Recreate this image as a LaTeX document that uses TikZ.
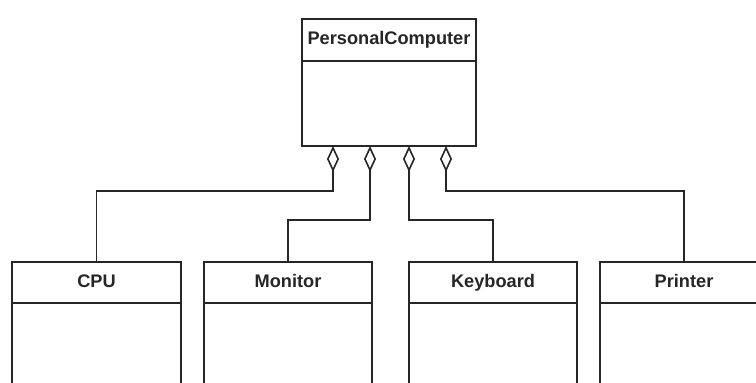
\documentclass[tikz,border=0pt]{standalone}
\usepackage{fontspec}
\setmainfont{Liberation Sans}
\usetikzlibrary{arrows.meta}
\definecolor{ink}{HTML}{262626}
\begin{document}
\begin{tikzpicture}[x=1pt,y=-1pt,
  box/.style={draw=ink, line width=1.7pt, rectangle, inner sep=0pt, outer sep=0pt},
  titlebox/.style={box, minimum height=42pt, text height=13pt, text depth=4pt,
    font=\fontsize{18.2}{21}\selectfont\bfseries, text=ink},
  bodybox/.style={box, anchor=north},
  aggr/.style={draw=ink, line width=1.7pt,
    {Diamond[open, length=26pt, width=12pt, line width=1.6pt]}-}]
  \useasboundingbox (0,0) rectangle (756,383);
  \fill[white] (0,0) rectangle (756,383);
  \begin{scope}
    \clip (0,0) rectangle (756,383);
    % whole
    \node[titlebox, minimum width=174pt] (pc) at (389,40) {PersonalComputer};
    \node[bodybox, minimum width=174pt, minimum height=85pt] (pcb) at (pc.south) {};
    % parts
    \node[titlebox, minimum width=169pt, minimum height=41pt] (cpu) at (96.5,282.5) {CPU};
    \node[bodybox, minimum width=169pt, minimum height=120pt] (cpub) at (cpu.south) {};
    \node[titlebox, minimum width=168pt, minimum height=41pt] (mon) at (288,282.5) {Monitor};
    \node[bodybox, minimum width=168pt, minimum height=120pt] (monb) at (mon.south) {};
    \node[titlebox, minimum width=168pt, minimum height=41pt] (kbd) at (493,282.5) {Keyboard};
    \node[bodybox, minimum width=168pt, minimum height=120pt] (kbdb) at (kbd.south) {};
    \node[titlebox, minimum width=168pt, minimum height=41pt] (prn) at (684,282.5) {Printer};
    \node[bodybox, minimum width=168pt, minimum height=120pt] (prnb) at (prn.south) {};
    % aggregation ends on the bottom edge of the whole
    \coordinate (a1) at (333,146);
    \coordinate (a2) at (370,146);
    \coordinate (a3) at (409,146);
    \coordinate (a4) at (446,146);
    \draw[aggr] (a1) -- ++(0,45) -| (cpu.north);
    \draw[aggr] (a2) -- ++(0,74) -| (mon.north);
    \draw[aggr] (a3) -- ++(0,74) -| (kbd.north);
    \draw[aggr] (a4) -- ++(0,45) -| (prn.north);
  \end{scope}
\end{tikzpicture}
\end{document}
